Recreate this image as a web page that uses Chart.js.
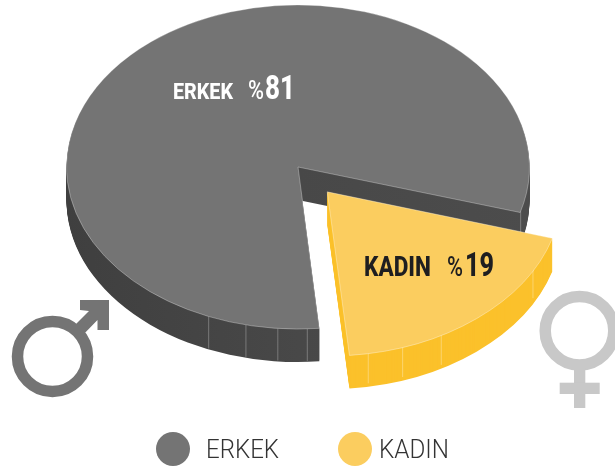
<!DOCTYPE html>
<html><head><meta charset="utf-8">
<style>html,body{margin:0;padding:0;background:#fff;overflow:hidden}canvas{display:block}</style>
<script src="https://cdn.jsdelivr.net/npm/chart.js@4"></script>
</head><body><canvas id="c" width="615" height="471"></canvas>
<script>
const categories = ['ERKEK', 'KADIN'];
const values = [81, 19];
const topColors = ['#747474', '#FBCD5F'];
const sideColors = ['#4a4a4a', '#FBC12B'];
const seamAngles = [[112.7, 103, 95, 87.7, 15.9], [79.8, 71, 60.5, 27.3]];
const FONT = 'Roboto, sans-serif';
const SQUASH = 0.7, DEPTH = 33, PIVOT = 167;

function squash(ctx, dy) {
  ctx.translate(0, PIVOT + dy);
  ctx.scale(1, SQUASH);
  ctx.translate(0, -PIVOT);
}
function txt(ctx, s, x, y, w, font, color) {
  ctx.font = font; ctx.fillStyle = color; ctx.textAlign = 'left'; ctx.textBaseline = 'alphabetic';
  ctx.fillText(s, x, y, w);
}
const pie3d = {
  id: 'pie3d',
  beforeDatasetsDraw(chart) {
    const ctx = chart.ctx, arcs = chart.getDatasetMeta(0).data;
    arcs.forEach((arc, i) => {
      const base = arc.options;
      let fill = sideColors[i];
      if (i === 0) {
        fill = ctx.createLinearGradient(66, 0, 530, 0);
        fill.addColorStop(0, '#3f3f3f'); fill.addColorStop(0.5, '#484848'); fill.addColorStop(1, '#4c4c4c');
      }
      arc.options = Object.assign({}, base, {backgroundColor: fill, borderWidth: 0, borderColor: 'transparent'});
      for (let d = DEPTH; d >= 1; d--) {
        ctx.save(); squash(ctx, d); arc.draw(ctx); ctx.restore();
      }
      arc.options = base;
      const off = (base.offset || 0) / 4, mid = (arc.startAngle + arc.endAngle) / 2;
      const cx = arc.x + Math.cos(mid) * off, cy = arc.y + Math.sin(mid) * off;
      ctx.save();
      ctx.strokeStyle = i === 0 ? 'rgba(255,255,255,0.28)' : 'rgba(255,255,255,0.32)';
      ctx.lineWidth = 1;
      seamAngles[i].forEach(a => {
        const r = a * Math.PI / 180;
        const x = cx + Math.cos(r) * arc.outerRadius;
        const y = PIVOT + (cy + Math.sin(r) * arc.outerRadius - PIVOT) * SQUASH;
        ctx.beginPath(); ctx.moveTo(x, y); ctx.lineTo(x, y + DEPTH - 1); ctx.stroke();
      });
      ctx.restore();
    });
    ctx.save(); squash(ctx, 0);
  },
  afterDatasetsDraw(chart) {
    const ctx = chart.ctx;
    ctx.restore();
    // value labels
    txt(ctx, categories[0], 173, 99, 60, '800 22px ' + FONT, '#ffffff');
    txt(ctx, '%', 248, 99, 16, '500 26px ' + FONT, '#ffffff');
    txt(ctx, String(values[0]), 265, 99, 30, '800 33px ' + FONT, '#ffffff');
    txt(ctx, categories[1], 364, 276, 67, '800 27px ' + FONT, '#1e1e20');
    txt(ctx, '%', 447, 276, 16, '500 27px ' + FONT, '#1e1e20');
    txt(ctx, String(values[1]), 465, 276, 29, '800 33px ' + FONT, '#1e1e20');
    // male symbol
    ctx.save();
    ctx.strokeStyle = '#747474'; ctx.lineWidth = 11.5;
    ctx.beginPath(); ctx.arc(52.5, 356.5, 35, 0, 7); ctx.stroke();
    ctx.fillStyle = '#747474';
    ctx.beginPath();
    [[80,300],[109,300],[109,330],[97.5,330],[97.5,320],[80,338],[71,329],[89,311],[80,310]]
      .forEach((p, i) => i ? ctx.lineTo(p[0], p[1]) : ctx.moveTo(p[0], p[1]));
    ctx.closePath(); ctx.fill();
    // female symbol
    ctx.strokeStyle = '#c8c8c8'; ctx.fillStyle = '#c8c8c8';
    ctx.beginPath(); ctx.arc(579.5, 330.7, 34.3, 0, 7); ctx.stroke();
    ctx.fillRect(574, 368, 11.3, 40);
    ctx.fillRect(559.7, 382.7, 40, 11.3);
    // legend
    ctx.fillStyle = topColors[0];
    ctx.beginPath(); ctx.arc(173, 449, 17, 0, 7); ctx.fill();
    ctx.fillStyle = topColors[1];
    ctx.beginPath(); ctx.arc(355, 449, 17, 0, 7); ctx.fill();
    ctx.restore();
    txt(ctx, categories[0], 206, 458, 73, '300 25px ' + FONT, '#333333');
    txt(ctx, categories[1], 379, 458, 70, '300 25px ' + FONT, '#333333');
  }
};
new Chart(document.getElementById('c'), {
  type: 'pie',
  data: {
    labels: categories,
    datasets: [{
      data: values,
      backgroundColor: topColors,
      borderColor: ['rgba(255,255,255,0.45)', 'rgba(255,255,255,0.5)'],
      borderWidth: 0.8,
      offset: [0, 184],
      clip: false
    }]
  },
  options: {
    responsive: false, animation: false, devicePixelRatio: 1,
    rotation: 174.7, radius: 231.5,
    layout: {padding: {left: 0, right: 19, top: 0, bottom: 137}},
    events: [],
    plugins: {legend: {display: false}, tooltip: {enabled: false}}
  },
  plugins: [pie3d]
});
</script></body></html>
